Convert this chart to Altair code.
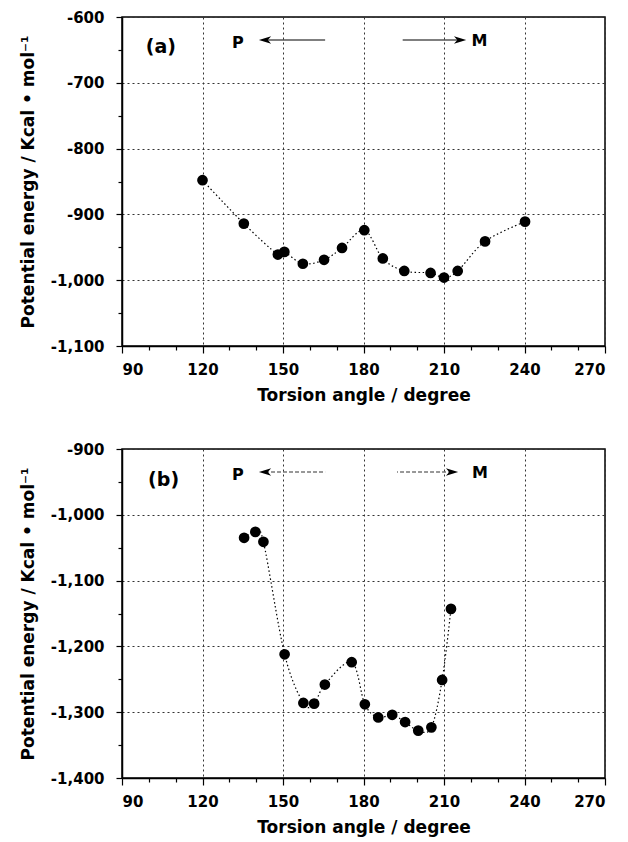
import altair as alt
import pandas as pd

# ---- data ----
a_angle = [120, 135.4, 148.1, 150.5, 157.4, 165.3, 172, 180.3, 187.2, 195.2, 205, 210, 215.1, 225.3, 240.2]
a_energy = [-848, -914, -961, -957, -975, -969, -951, -924, -967, -986, -989, -996, -986, -941, -911]

b_angle = [135.5, 139.7, 142.7, 150.6, 157.6, 161.6, 165.6, 175.6, 180.5, 185.5, 190.7, 195.5, 200.4, 205.3, 209.3, 212.6]
b_energy = [-1035, -1026, -1041, -1212, -1286, -1287, -1258, -1224, -1288, -1308, -1304, -1315, -1328, -1323, -1251, -1143]

x_ticks = list(range(90, 271, 10))
a_y_ticks = list(range(-1100, -599, 50))
b_y_ticks = list(range(-1400, -899, 50))

# annotation positions (data coordinates)
a_labels = ["(a)", "P", "M"]
a_label_x = [104.5, 133.2, 223.2]
a_label_y = [-646, -640, -637]
a_arrow_tip = [143.3, 216.0]
a_arrow_tail = [165.7, 194.6]
a_arrow_y = [-635, -635]

b_labels = ["(b)", "P", "M"]
b_label_x = [105.5, 133.2, 223.4]
b_label_y = [-947, -940, -937]
b_arrow_tip = [143.3, 213.0]
b_arrow_tail = [165.7, 192.5]
b_arrow_y = [-935, -935]

FONT = "DejaVu Sans"
W, H = 483, 329


def panel(angle, energy, y_ticks, labels, lx, ly, tips, tails, ay, ytitle, dashed):
    ymin, ymax = y_ticks[0], y_ticks[-1]
    x_scale = alt.Scale(domain=[90, 270], nice=False, zero=False)
    y_scale = alt.Scale(domain=[ymin, ymax], nice=False, zero=False)
    major_x = "datum.value % 30 == 0"
    major_y = "datum.value % 100 == 0"
    x_axis = alt.Axis(
        values=x_ticks,
        tickCount=100,
        labelExpr=f"{major_x} ? datum.label : ''",
        labelOverlap=False,
        labelPadding=9,
        tickSize={"condition": {"test": major_x, "value": 7}, "value": 4},
        gridOpacity={"condition": {"test": major_x, "value": 1}, "value": 0},
        title="Torsion angle / degree",
        titlePadding=10,
    )
    y_axis = alt.Axis(
        values=y_ticks,
        tickCount=100,
        labelExpr=f"{major_y} ? replace(format(datum.value, ','), '\u2212', '-') : ''",
        labelOverlap=False,
        labelPadding=12,
        tickSize={"condition": {"test": major_y, "value": 6}, "value": 4},
        gridOpacity={"condition": {"test": major_y, "value": 1}, "value": 0},
        title=ytitle,
        titlePadding=13,
    )
    df = pd.DataFrame({"angle": angle, "energy": energy})
    base = alt.Chart(df)
    line = base.mark_line(
        interpolate="cardinal", color="black", strokeWidth=1.2, strokeDash=[1.5, 2.5]
    ).encode(
        x=alt.X("angle:Q", scale=x_scale, axis=x_axis),
        y=alt.Y("energy:Q", scale=y_scale, axis=y_axis),
    )
    pts = base.mark_circle(size=115, color="black", opacity=1).encode(
        x="angle:Q", y="energy:Q"
    )
    tdf = pd.DataFrame({"x": lx, "y": ly, "t": labels})
    big = alt.Chart(tdf.iloc[:1]).mark_text(
        font=FONT, fontWeight="bold", fontSize=19, color="black"
    ).encode(x="x:Q", y="y:Q", text="t:N")
    small = alt.Chart(tdf.iloc[1:]).mark_text(
        font=FONT, fontWeight="bold", fontSize=16, color="black"
    ).encode(x="x:Q", y="y:Q", text="t:N")
    adf = pd.DataFrame({"tip": tips, "tail": tails, "y": ay})
    rule_kw = dict(color="black", strokeWidth=1.1)
    if dashed:
        rule_kw["strokeDash"] = [4, 2]
        rule_kw["color"] = "#333333"
    rules = alt.Chart(adf).mark_rule(**rule_kw).encode(
        x="tip:Q", x2="tail:Q", y="y:Q"
    )
    head_l = alt.Chart(adf.iloc[:1]).mark_point(
        shape="M-1,0 L1,-0.6 L0.45,0 L1,0.6 Z", filled=True, color="black", size=150, opacity=1
    ).encode(x="tip:Q", y="y:Q")
    head_r = alt.Chart(adf.iloc[1:]).mark_point(
        shape="M1,0 L-1,-0.6 L-0.45,0 L-1,0.6 Z", filled=True, color="black", size=150, opacity=1
    ).encode(x="tip:Q", y="y:Q")
    return alt.layer(line, pts, rules, head_l, head_r, big, small).properties(width=W, height=H)


pa = panel(a_angle, a_energy, a_y_ticks, a_labels, a_label_x, a_label_y,
           a_arrow_tip, a_arrow_tail, a_arrow_y,
           "Potential energy / Kcal \u2022 mol\u207b\u00b9", False)
pb = panel(b_angle, b_energy, b_y_ticks, b_labels, b_label_x, b_label_y,
           b_arrow_tip, b_arrow_tail, b_arrow_y,
           "Potential energy  / Kcal \u2022 mol\u207b\u00b9", True)

chart = alt.vconcat(pa, pb, spacing=37).properties(
    padding={"left": 18, "top": 9, "right": 5, "bottom": 2},
    background="white",
).configure_view(
    stroke="black", strokeWidth=1.5
).configure_axis(
    domainColor="black", domainWidth=1.5,
    tickColor="black", tickWidth=1.2,
    labelFont=FONT, labelFontWeight="bold", labelFontSize=15, labelColor="black",
    titleFont=FONT, titleFontWeight="bold", titleFontSize=17, titleColor="black",
    gridColor="#333333", gridDash=[2, 3], gridWidth=1,
)

chart.save("out.html", embed_options={"renderer": "svg", "actions": False})
